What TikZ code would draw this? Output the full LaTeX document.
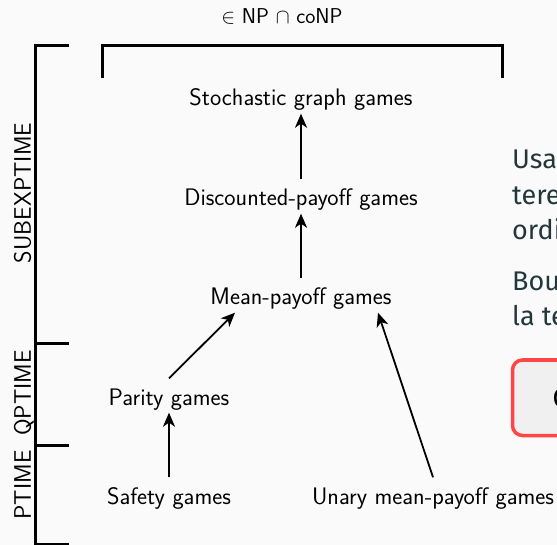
\documentclass[tikz,border=0pt]{standalone}
\usepackage{fontspec}
\newfontfamily\firafont{Fira Sans}
\usetikzlibrary{arrows.meta,calc}
\definecolor{pagebg}{HTML}{FAFAFA}
\definecolor{slate}{HTML}{23373B}
\definecolor{alertred}{HTML}{FF4545}
\definecolor{boxfill}{HTML}{F0F0F0}

\begin{document}
\begin{tikzpicture}[x=1pt,y=-1pt,
  game/.style={font=\sffamily\fontsize{23.9}{28}\selectfont, anchor=base,
    inner xsep=3pt, inner ysep=2.5pt, text height=24pt, text depth=5pt},
  classlabel/.style={font=\sffamily\fontsize{23.9}{28}\selectfont, rotate=90,
    inner sep=0pt, text depth=0pt},
  toplabel/.style={font=\sffamily\fontsize{21.5}{25}\selectfont, anchor=base, inner sep=0pt},
  slidetext/.style={font=\firafont\fontsize{27}{33}\selectfont, text=slate,
    anchor=base west, inner sep=0pt},
  arr/.style={-{Stealth[length=14pt,width=12pt,inset=4pt]}, line width=1.8pt},
  brk/.style={line width=3pt, line join=miter},
]
\useasboundingbox (0,0) rectangle (557,545);
\clip (0,0) rectangle (557,545);
\fill[pagebg] (0,0) rectangle (557,545);

% complexity brackets
\node[toplabel] (nplabel) at (282,24) {$\in$ NP $\cap$ coNP};
\draw[brk] (102,78) -- (102,46) -- (502,46) -- (502,78);
\draw[brk] (69,46) -- (35.5,46) -- (35.5,544) -- (69,544);
\draw[brk] (35.5,344) -- (69,344);
\draw[brk] (35.5,445) -- (69,445);
\node[classlabel] (subexp) at (22.5,193) {SUBEXPTIME};
\node[classlabel] (qp) at (22.5,393) {QPTIME};
\node[classlabel] (pt) at (22.5,485) {PTIME};

% games
\node[game] (stoch) at (301,106) {Stochastic graph games};
\node[game] (disc) at (301,206) {Discounted-payoff games};
\node[game] (mean) at (301,305) {Mean-payoff games};
\node[game] (parity) at (169,405) {Parity games};
\node[game] (safety) at (169,504) {Safety games};
\node[game] (unary) at (433,504) {Unary mean-payoff games};

% reductions
\draw[arr] (disc.north) -- (stoch.south);
\draw[arr] (mean.north) -- (disc.south);
\draw[arr] (safety.north) -- (parity.south);
\draw[arr] (parity.north) -- ($(mean.south)+(-66,0)$);
\draw[arr] (unary.north) -- ($(mean.south)+(77,0)$);

% slide text on the right
\node[slidetext] (t1) at (512,169) {Usan};
\node[slidetext] (t2) at (512,205) {tere};
\node[slidetext] (t3) at (512,240) {ordin};
\node[slidetext] (t4) at (512,291) {Boun};
\node[slidetext] (t5) at (512,326) {la te};
\draw[alertred, line width=3.5pt, fill=boxfill, rounded corners=10pt]
  (512.5,360) rectangle (620,435.5);
\node[slidetext, text=black] (boxtext) at (552.5,407) {C};
\end{tikzpicture}
\end{document}
